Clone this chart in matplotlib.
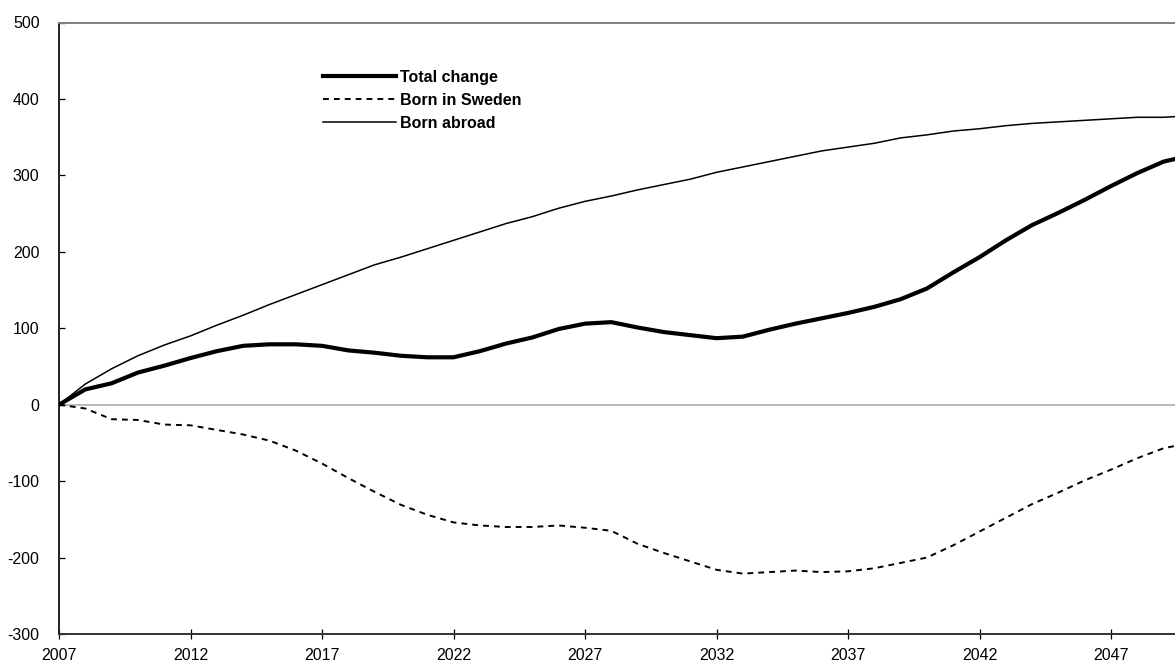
import matplotlib.pyplot as plt
from matplotlib.lines import Line2D

plt.rcParams["font.family"] = ["Liberation Sans", "DejaVu Sans"]
plt.rcParams["axes.unicode_minus"] = False

# --- Data: population change since 2007 (thousands) ---
years = list(range(2007, 2051))
total_change = [0, 20, 28, 42, 51, 61, 70, 77, 79, 79,
                77, 71, 68, 64, 62, 62, 70, 80, 88, 99,
                106, 108, 101, 95, 91, 87, 89, 98, 106, 113,
                120, 128, 138, 152, 173, 193, 215, 235, 251, 268,
                286, 303, 318, 326]
born_sweden = [0, -5, -19, -20, -26, -27, -33, -39, -47, -60,
               -77, -96, -114, -131, -144, -154, -158, -160, -160, -158,
               -161, -165, -182, -194, -205, -216, -221, -219, -217, -219,
               -218, -214, -207, -200, -184, -166, -148, -130, -115, -99,
               -85, -70, -57, -50]
born_abroad = [0, 27, 47, 64, 78, 90, 104, 117, 131, 144,
               157, 170, 183, 193, 204, 215, 226, 237, 246, 257,
               266, 273, 281, 288, 295, 304, 311, 318, 325, 332,
               337, 342, 349, 353, 358, 361, 365, 368, 370, 372,
               374, 376, 376, 378]

labels = ["Total change", "Born in Sweden", "Born abroad"]
x_ticks = list(range(2007, 2050, 5))
y_ticks = list(range(-300, 501, 100))

# --- Figure ---
fig = plt.figure(figsize=(11.75, 6.63), dpi=100)
ax = fig.add_axes([59 / 1175, 29 / 663, 1 - 59 / 1175, 611.5 / 663])

ax.axhline(0, color="#b4b4b4", lw=1.3, zorder=1)

ax.plot(years, total_change, color="black", lw=3.0, solid_joinstyle="round", zorder=3)
ax.plot(years, born_sweden, color="black", lw=1.4, linestyle=(0, (3, 2.6)), zorder=3)
ax.plot(years, born_abroad, color="black", lw=1.1, zorder=3)

ax.set_xlim(2007, 2007 + (1175 - 59) / 26.3)
ax.set_ylim(-300, 500)
ax.set_xticks(x_ticks)
ax.set_yticks(y_ticks)
ax.tick_params(axis="y", direction="in", length=4.5, width=0.9, pad=14, labelsize=11.5)
ax.tick_params(axis="x", direction="inout", length=7, width=0.9, pad=6.5, labelsize=11.5)

ax.spines["right"].set_visible(False)
ax.spines["top"].set_color("#808080")
ax.spines["top"].set_linewidth(1.4)
ax.spines["left"].set_color("#222222")
ax.spines["left"].set_linewidth(1.4)
ax.spines["bottom"].set_color("#333333")
ax.spines["bottom"].set_linewidth(1.4)

# Legend with long line handles, no frame
handles = [
    Line2D([], [], color="black", lw=3.0),
    Line2D([], [], color="black", lw=1.4, linestyle=(0, (3, 2.6))),
    Line2D([], [], color="black", lw=1.1),
]
ax.legend(handles, labels, loc="upper left",
          bbox_to_anchor=(323 / 1175, 1 - 70 / 663), bbox_transform=fig.transFigure,
          frameon=False, borderpad=0, borderaxespad=0,
          handlelength=4.6, handletextpad=0.25, labelspacing=0.5,
          prop={"weight": "bold", "size": 11.5})

fig.savefig("out.png", dpi=100)
